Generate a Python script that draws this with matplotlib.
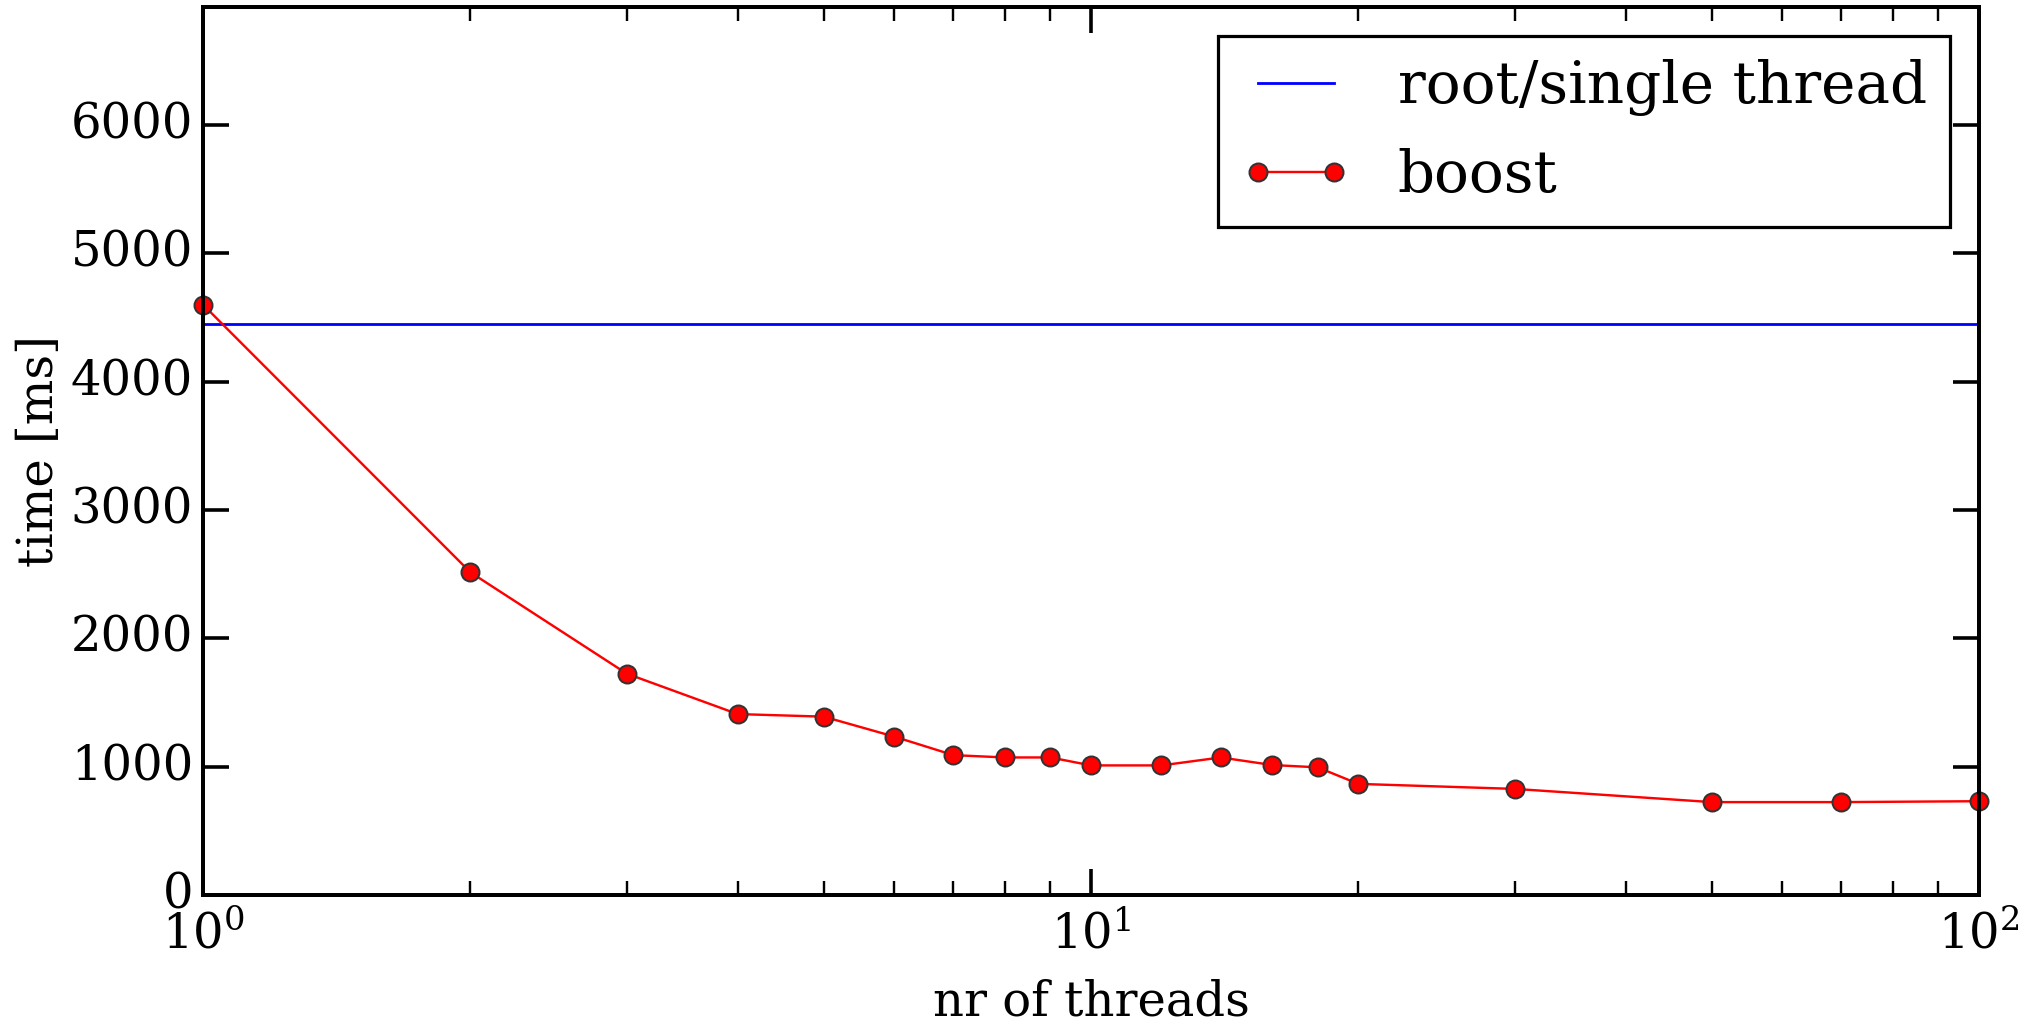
import matplotlib
matplotlib.use('Agg')
from matplotlib import pyplot as plt

threads = [1, 2, 3, 4, 5, 6, 7, 8, 9, 10, 12, 14, 16, 18, 20, 30, 50, 70, 100]
boost_ms = [4600, 2515, 1725, 1410, 1390, 1235, 1090, 1072, 1072, 1010,
            1010, 1072, 1013, 995, 866, 827, 724, 724, 731]
root_ms = 4450

plt.style.use('classic')
plt.rcParams['font.family'] = 'serif'
plt.rcParams['font.serif'] = ['DejaVu Serif']
plt.rcParams['mathtext.fontset'] = 'dejavuserif'
plt.rcParams['font.size'] = 12
plt.rcParams['axes.linewidth'] = 1.0
for ax_name in ['xtick', 'ytick']:
    plt.rcParams[ax_name + '.major.size'] = 6.5
    plt.rcParams[ax_name + '.minor.size'] = 3.5
    plt.rcParams[ax_name + '.major.width'] = 0.9
    plt.rcParams[ax_name + '.minor.width'] = 0.6
plt.rcParams['xtick.major.pad'] = 4
plt.rcParams['xtick.minor.pad'] = 4
plt.rcParams['ytick.major.pad'] = 2.5

fig = plt.figure(figsize=(2037 / 288, 1021 / 288), dpi=288, facecolor='white')
ax = fig.add_axes([0.0997, 0.1234, 0.9715 - 0.0997, 0.9931 - 0.1234])

ax.plot([1, 100], [root_ms, root_ms], color='b', lw=0.7, label='root/single thread')
ax.plot(threads, boost_ms, 'o-', color='r', lw=0.6, ms=4.5, mec='#333333', mew=0.5,
        label='boost', clip_on=False)
ax.set_xscale('log')
ax.set_xlim(1, 100)
ax.set_ylim(0, 6920)
ax.set_yticks([0, 1000, 2000, 3000, 4000, 5000, 6000])
ax.set_xlabel('nr of threads', labelpad=5)
ax.set_ylabel('time [ms]', labelpad=2)

leg = ax.legend(loc='upper right', fontsize=14.5, numpoints=2, handlelength=1.9,
                handletextpad=0.8, labelspacing=0.55, fancybox=False)
leg.get_frame().set_linewidth(0.8)

fig.savefig('out.png', dpi=288, facecolor='white')
